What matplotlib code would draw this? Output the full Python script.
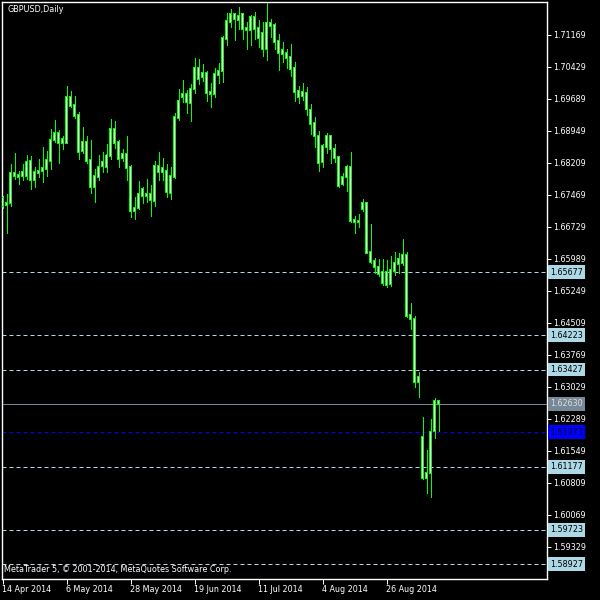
import matplotlib
matplotlib.use("Agg")
import matplotlib.pyplot as plt
import matplotlib.transforms as mtransforms
import numpy as np

SYMBOL = "GBPUSD,Daily"
FOOTER = "MetaTrader 5, \u00a9 2001-2014, MetaQuotes Software Corp."

# daily bars, 14 Apr 2014 .. 12 Sep 2014
opens = [1.6740, 1.6723, 1.6727, 1.6797, 1.6789, 1.6791, 1.6791, 1.6825, 1.6781, 1.6798,
         1.6803, 1.6807, 1.6826, 1.6875, 1.6889, 1.6868, 1.6868, 1.6973, 1.6955, 1.6932,
         1.6848, 1.6869, 1.6827, 1.6766, 1.6789, 1.6814, 1.6812, 1.6837, 1.6899, 1.6869,
         1.6833, 1.6841, 1.6811, 1.6710, 1.6716, 1.6760, 1.6745, 1.6748, 1.6733, 1.6813,
         1.6800, 1.6801, 1.6752, 1.6789, 1.6925, 1.6974, 1.6980, 1.6960, 1.6991, 1.7040,
         1.7020, 1.7028, 1.6985, 1.6980, 1.7025, 1.7034, 1.7108, 1.7148, 1.7165, 1.7152,
         1.7165, 1.7128, 1.7128, 1.7158, 1.7132, 1.7122, 1.7084, 1.7145, 1.7140, 1.7103,
         1.7082, 1.7076, 1.7065, 1.7040, 1.6988, 1.6976, 1.6982, 1.6943, 1.6913, 1.6883,
         1.6824, 1.6858, 1.6883, 1.6852, 1.6834, 1.6772, 1.6788, 1.6811, 1.6689, 1.6683,
         1.6714, 1.6727, 1.6614, 1.6593, 1.6579, 1.6569, 1.6538, 1.6573, 1.6571, 1.6588,
         1.6589, 1.6608, 1.6469, 1.6460, 1.6315, 1.6186, 1.6091, 1.6103, 1.6201, 1.6271]
highs = [1.6744, 1.6749, 1.6818, 1.6843, 1.6803, 1.6818, 1.6838, 1.6837, 1.6811, 1.6829,
         1.6857, 1.6848, 1.6900, 1.6919, 1.6897, 1.6883, 1.6999, 1.6987, 1.6976, 1.6939,
         1.6904, 1.6883, 1.6875, 1.6806, 1.6839, 1.6846, 1.6864, 1.6922, 1.6918, 1.6875,
         1.6853, 1.6883, 1.6816, 1.6742, 1.6779, 1.6764, 1.6784, 1.6769, 1.6825, 1.6845,
         1.6832, 1.6818, 1.6811, 1.6936, 1.6992, 1.7013, 1.6990, 1.7003, 1.7063, 1.7061,
         1.7049, 1.7034, 1.7005, 1.7040, 1.7051, 1.7114, 1.7167, 1.7176, 1.7167, 1.7181,
         1.7167, 1.7148, 1.7163, 1.7169, 1.7152, 1.7148, 1.7192, 1.7155, 1.7144, 1.7119,
         1.7101, 1.7084, 1.7096, 1.7055, 1.6999, 1.7005, 1.6996, 1.6957, 1.6928, 1.6895,
         1.6865, 1.6891, 1.6885, 1.6865, 1.6835, 1.6797, 1.6816, 1.6846, 1.6698, 1.6703,
         1.6737, 1.6729, 1.6679, 1.6600, 1.6599, 1.6599, 1.6596, 1.6605, 1.6614, 1.6613,
         1.6645, 1.6614, 1.6496, 1.6467, 1.6338, 1.6234, 1.6157, 1.6228, 1.6276, 1.6272]
lows = [1.6717, 1.6659, 1.6720, 1.6783, 1.6772, 1.6781, 1.6784, 1.6760, 1.6764, 1.6789,
        1.6777, 1.6791, 1.6806, 1.6869, 1.6821, 1.6853, 1.6866, 1.6951, 1.6924, 1.6830,
        1.6843, 1.6820, 1.6752, 1.6731, 1.6781, 1.6800, 1.6800, 1.6830, 1.6855, 1.6812,
        1.6825, 1.6781, 1.6696, 1.6692, 1.6714, 1.6727, 1.6730, 1.6699, 1.6722, 1.6781,
        1.6781, 1.6743, 1.6737, 1.6787, 1.6920, 1.6961, 1.6937, 1.6918, 1.6983, 1.7003,
        1.7010, 1.6965, 1.6951, 1.6974, 1.7006, 1.7009, 1.7094, 1.7136, 1.7105, 1.7130,
        1.7108, 1.7084, 1.7094, 1.7107, 1.7090, 1.7069, 1.7059, 1.7113, 1.7084, 1.7036,
        1.7054, 1.7040, 1.7023, 1.6965, 1.6959, 1.6966, 1.6932, 1.6888, 1.6857, 1.6803,
        1.6812, 1.6844, 1.6821, 1.6824, 1.6766, 1.6770, 1.6757, 1.6685, 1.6658, 1.6673,
        1.6710, 1.6612, 1.6589, 1.6565, 1.6558, 1.6538, 1.6534, 1.6537, 1.6562, 1.6567,
        1.6585, 1.6465, 1.6437, 1.6303, 1.6278, 1.6089, 1.6056, 1.6048, 1.6184, 1.6201]
closes = [1.6721, 1.6729, 1.6797, 1.6791, 1.6793, 1.6800, 1.6824, 1.6781, 1.6800, 1.6803,
          1.6809, 1.6827, 1.6875, 1.6889, 1.6868, 1.6876, 1.6973, 1.6953, 1.6930, 1.6847,
          1.6869, 1.6826, 1.6766, 1.6790, 1.6811, 1.6822, 1.6838, 1.6899, 1.6866, 1.6831,
          1.6841, 1.6810, 1.6710, 1.6717, 1.6750, 1.6745, 1.6748, 1.6736, 1.6813, 1.6799,
          1.6808, 1.6754, 1.6790, 1.6926, 1.6963, 1.6980, 1.6962, 1.6991, 1.7040, 1.7014,
          1.7028, 1.6983, 1.6980, 1.7027, 1.7034, 1.7109, 1.7149, 1.7165, 1.7153, 1.7161,
          1.7130, 1.7134, 1.7159, 1.7131, 1.7111, 1.7084, 1.7144, 1.7138, 1.7101, 1.7076,
          1.7073, 1.7064, 1.7038, 1.6986, 1.6974, 1.6986, 1.6945, 1.6910, 1.6884, 1.6821,
          1.6860, 1.6883, 1.6852, 1.6833, 1.6768, 1.6788, 1.6811, 1.6687, 1.6683, 1.6686,
          1.6727, 1.6613, 1.6592, 1.6579, 1.6564, 1.6542, 1.6569, 1.6540, 1.6589, 1.6599,
          1.6608, 1.6467, 1.6459, 1.6315, 1.6325, 1.6091, 1.6103, 1.6199, 1.6271, 1.6263]

date_ticks = [0, 16, 32, 48, 64, 80, 96]
date_labels = ["14 Apr 2014", "6 May 2014", "28 May 2014", "19 Jun 2014",
               "11 Jul 2014", "4 Aug 2014", "26 Aug 2014"]

price_ticks = [1.71169, 1.70429, 1.69689, 1.68949, 1.68209, 1.67469, 1.66729,
               1.65989, 1.65249, 1.64509, 1.63769, 1.63029, 1.62289, 1.61549,
               1.60809, 1.60069, 1.59329]

level_lines = [1.65677, 1.64223, 1.63427, 1.61177, 1.59723, 1.58927]
bid_price = 1.62630
blue_level = 1.61973

LIME = "#00ff00"
LIGHTBLUE = "#add8e6"
SLATE = "#778899"
BLUE = "#0000ff"
FS = 5.8
PX = 0.72  # one pixel in points at dpi 100
YMIN, YMAX = 1.58580, 1.71932
YPX = (YMAX - YMIN) / 577  # price per screen pixel


def main():
    fig = plt.figure(figsize=(6, 6), dpi=100, facecolor="black")
    ax = fig.add_axes([2 / 600, 21 / 600, 545 / 600, 577 / 600], facecolor="black")

    o = np.array(opens); h = np.array(highs); l = np.array(lows); c = np.array(closes)
    x = np.arange(len(o))
    top = np.maximum(o, c)
    bot = np.minimum(o, c)

    # wicks
    ax.vlines(x, l, h, color=LIME, lw=PX, zorder=2, antialiased=False)
    # bodies: 3px lime block with a 1px white core
    outer = ax.bar(x, top - bot + YPX, bottom=bot - 0.5 * YPX, width=0.7,
                   color=LIME, linewidth=0, zorder=3)
    inner_h = np.maximum(top - bot - YPX, 0)
    inner = ax.bar(x, inner_h, bottom=bot + 0.5 * YPX, width=0.25, color="white",
                   linewidth=0, zorder=4)
    for b in list(outer) + list(inner):
        b.set_antialiased(False)
        b.set_snap(False)

    ax.set_xlim(-0.125, 136.125)
    ax.set_ylim(YMIN, YMAX)

    blend = mtransforms.blended_transform_factory(ax.transAxes, ax.transData)

    # horizontal levels
    for p in level_lines:
        ax.axhline(p, color=LIGHTBLUE, lw=PX, ls=(0, (4, 3)), zorder=1)
        ax.text(1.0055, p, f"{p:.5f}", transform=blend, ha="left", va="center",
                fontsize=FS, color="black", clip_on=False,
                bbox=dict(boxstyle="square,pad=0.3", fc=LIGHTBLUE, ec="none"))
    ax.axhline(bid_price, color=SLATE, lw=PX, zorder=1)
    ax.text(1.0055, bid_price, f"{bid_price:.5f}", transform=blend, ha="left",
            va="center", fontsize=FS, color="#dddddd", clip_on=False,
            bbox=dict(boxstyle="square,pad=0.3", fc=SLATE, ec="none"))
    ax.axhline(blue_level, color=BLUE, lw=PX, ls=(0, (4, 3)), zorder=1)
    ax.text(1.0055, blue_level, f"{blue_level:.5f}", transform=blend, ha="left",
            va="center", fontsize=FS, color="#000033", clip_on=False,
            bbox=dict(boxstyle="square,pad=0.3", fc=BLUE, ec="none"))

    # axes
    ax.yaxis.tick_right()
    ax.set_yticks(price_ticks)
    ax.set_yticklabels([f"{p:.5f}" for p in price_ticks])
    ax.tick_params(axis="y", colors="white", length=3, width=PX, pad=1.5,
                   labelsize=FS)
    ax.set_xticks(date_ticks)
    ax.set_xticklabels(date_labels, ha="left")
    ax.tick_params(axis="x", colors="white", length=3.5, width=PX, pad=1,
                   labelsize=FS)
    for s in ax.spines.values():
        s.set_color("white")
        s.set_linewidth(1.0)

    fig.text(7 / 600, 1 - 10 / 600, SYMBOL, color="white", fontsize=FS,
             ha="left", va="center")
    fig.text(4 / 600, 1 - 570 / 600, FOOTER, color="white", fontsize=FS,
             ha="left", va="center")

    fig.savefig("out.png", dpi=100, facecolor="black")
    plt.close(fig)


if __name__ == "__main__":
    main()
